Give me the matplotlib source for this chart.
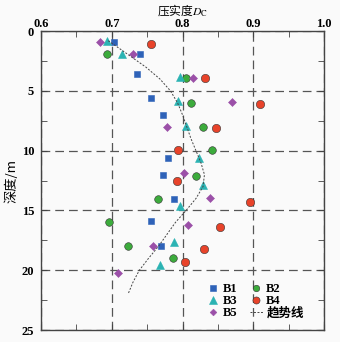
import matplotlib
matplotlib.use("Agg")
import matplotlib.pyplot as plt
from matplotlib.ticker import MultipleLocator

plt.rcParams['font.family'] = ['Liberation Serif', 'Noto Sans CJK SC', 'DejaVu Sans']
plt.rcParams['mathtext.fontset'] = 'stix'

# depth (m) and compaction degree for each borehole
b1_depth = [0.9, 1.9, 3.6, 5.6, 7.0, 10.6, 12.0, 14.0, 15.9, 18.0]
b1_dc = [0.703, 0.740, 0.735, 0.755, 0.772, 0.779, 0.772, 0.788, 0.756, 0.770]
b2_depth = [1.95, 3.9, 6.0, 8.05, 9.95, 12.1, 14.0, 16.0, 18.0, 19.0]
b2_dc = [0.693, 0.805, 0.812, 0.829, 0.842, 0.819, 0.766, 0.696, 0.723, 0.786]
b3_depth = [0.8, 1.9, 3.85, 5.85, 7.95, 10.65, 12.9, 14.6, 17.6, 19.6]
b3_dc = [0.693, 0.715, 0.797, 0.794, 0.805, 0.823, 0.829, 0.797, 0.788, 0.768]
b4_depth = [1.05, 3.9, 6.1, 8.1, 9.95, 12.5, 14.3, 16.4, 18.2, 19.3]
b4_dc = [0.755, 0.832, 0.910, 0.848, 0.794, 0.792, 0.896, 0.853, 0.830, 0.804]
b5_depth = [0.9, 1.95, 3.9, 5.95, 8.05, 11.9, 13.95, 16.2, 18.0, 20.2]
b5_dc = [0.684, 0.730, 0.815, 0.870, 0.778, 0.802, 0.839, 0.808, 0.758, 0.709]
trend_depth = [0.8, 1.5, 2.0, 3.0, 4.0, 5.0, 6.0, 7.0, 8.0, 9.0, 10.0, 11.0, 12.0,
               13.0, 14.0, 15.0, 16.0, 17.0, 18.0, 19.0, 20.0, 21.0, 22.0]
trend_dc = [0.695, 0.712, 0.724, 0.748, 0.768, 0.783, 0.793, 0.800, 0.806, 0.812,
            0.819, 0.826, 0.831, 0.829, 0.819, 0.805, 0.790, 0.778, 0.766, 0.752,
            0.739, 0.730, 0.723]

fig = plt.figure(figsize=(3.4, 3.42), dpi=100, facecolor='#fafafa')
ax = fig.add_axes([0.1206, 0.035, 0.8324, 0.874])
ax.set_facecolor('#fafafa')

ek = '#333333'
h1, = ax.plot(b1_dc, b1_depth, 's', color='#2e62b8', ms=5, mec='#2e62b8', mew=0.4, ls='none')
h2, = ax.plot(b2_dc, b2_depth, 'o', color='#3cab3c', ms=5.5, mec=ek, mew=0.4, ls='none')
h3, = ax.plot(b3_dc, b3_depth, '^', color='#2bb3b3', ms=6, mec='#2bb3b3', mew=0.4, ls='none')
h4, = ax.plot(b4_dc, b4_depth, 'o', color='#e8432a', ms=6, mec=ek, mew=0.4, ls='none')
h5, = ax.plot(b5_dc, b5_depth, 'D', color='#9b50a8', ms=4, mec='#9b50a8', mew=0.4, ls='none')
h6, = ax.plot(trend_dc, trend_depth, color='#444444', lw=0.7, dashes=(2.0, 1.6))

ax.set_xlim(0.6, 1.0)
ax.set_ylim(25, 0)
ax.xaxis.set_major_locator(MultipleLocator(0.1))
ax.xaxis.set_minor_locator(MultipleLocator(0.05))
ax.yaxis.set_major_locator(MultipleLocator(5))
ax.yaxis.set_minor_locator(MultipleLocator(2.5))
ax.xaxis.tick_top()
ax.xaxis.set_label_position('top')
ax.tick_params(which='both', direction='in', top=True, bottom=True, left=True, right=True,
               color='#444444', labelsize=9)
ax.tick_params(which='major', length=4)
ax.tick_params(axis='x', which='major', pad=0.5)
ax.tick_params(axis='y', which='major', pad=5)
ax.tick_params(which='minor', length=4)
for lab in ax.get_xticklabels() + ax.get_yticklabels():
    lab.set_fontweight('bold')
for s in ax.spines.values():
    s.set_color('#444444')
    s.set_linewidth(1.0)
ax.grid(True, which='major', color='#555555', ls=(0, (7, 4)), lw=0.9)

ax.set_xlabel('压实度$D_\\mathrm{C}$', fontsize=8.5, labelpad=3,
              family=['Noto Sans CJK SC', 'DejaVu Sans'])
ax.set_ylabel('深度/m', fontsize=9.5, labelpad=2,
              family=['Noto Sans CJK SC', 'DejaVu Sans'])

leg = ax.legend([h1, h3, h5, h2, h4, h6], ['B1', 'B3', 'B5', 'B2', 'B4', '趋势线'],
                ncol=2, frameon=False, loc='lower right', bbox_to_anchor=(0.955, 0.01),
                handlelength=1.0, handletextpad=0.3, columnspacing=1.0,
                labelspacing=0.0, borderpad=0.1, markerscale=0.85,
                prop={'weight': 'bold', 'size': 9,
                      'family': ['Liberation Serif', 'Noto Sans CJK SC']})

fig.savefig('out.png', dpi=100, facecolor='#fafafa')
